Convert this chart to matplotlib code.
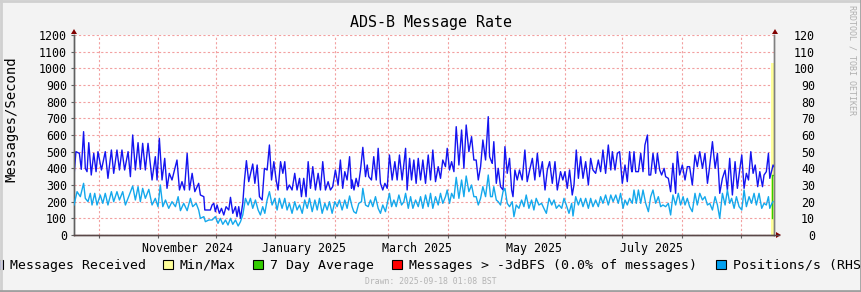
import pandas as pd
import matplotlib
matplotlib.use('Agg')
import matplotlib.pyplot as plt
import matplotlib.dates as mdates
from matplotlib.patches import Rectangle, Polygon
from matplotlib.lines import Line2D

plt.rcParams['font.family'] = ['DejaVu Sans Mono']

# time span of the graph (one year up to the draw time)
start = pd.Timestamp('2024-09-18 01:08')
end = pd.Timestamp('2025-09-18 01:08')

# messages received per second (left axis), days since start
msg_days = [0.0, 1.0, 2.8, 3.8, 5.0, 5.9, 6.8, 7.7, 9.0, 10.3, 11.5, 12.5, 14.3, 16.3, 17.7,
            19.5, 20.7, 22.4, 23.7, 25.0, 26.4, 28.2, 29.4, 30.6, 32.0, 33.4, 34.6, 35.8, 37.2,
            38.6, 40.7, 42.4, 43.3, 44.5, 45.9, 47.3, 48.5, 49.7, 51.1, 53.7, 55.0, 56.3, 57.6,
            59.0, 60.2, 61.6, 63.0, 65.0, 65.9, 67.7, 68.2, 69.4, 71.1,
            72.0, 72.9, 73.7, 74.6, 75.8, 76.9, 78.1, 79.3, 80.7, 81.6, 82.8, 84.2, 85.0, 85.9,
            86.8, 88.0, 88.9, 89.9, 91.1, 92.5, 93.2, 94.3, 95.5, 96.7, 98.1, 99.3, 100.7, 101.9,
            103.0, 104.2, 105.4, 106.4, 107.7, 108.9, 109.9, 111.1, 112.3, 113.7, 115.1, 116.3,
            117.6, 118.6, 119.8, 121.0, 122.1, 123.3, 124.5, 125.9, 127.3, 128.5, 129.7, 131.1,
            132.5, 133.7, 134.9, 136.3, 137.7, 138.9, 140.1, 141.2, 142.4, 143.7, 144.7,
            145.0, 146.0, 147.1, 148.2, 149.4, 150.6, 152.0, 152.9, 153.7, 155.1, 156.3, 157.6,
            158.6, 159.8, 161.0, 162.1, 163.3, 164.5, 165.9, 167.3, 168.5, 169.7, 171.1, 172.9,
            173.7, 175.0, 176.0, 177.2, 178.4, 179.5, 180.7, 181.9, 183.3, 184.7, 185.9, 187.1,
            188.5, 189.9, 191.1, 192.3, 193.7, 194.6, 195.8, 196.9, 198.1, 199.3, 200.7, 202.1,
            203.3, 204.5, 205.9, 207.3, 208.5, 209.7, 210.8, 212.0, 213.2, 214.6, 216.0, 216.7,
            217.7,
            218.1, 218.9, 220.2, 221.2, 222.4, 223.7, 224.7, 225.9, 227.1, 228.2, 228.9, 229.9,
            231.1, 232.3, 233.7, 235.1, 236.3, 237.6, 239.0, 240.3, 241.6, 242.8, 244.2, 245.6,
            246.8, 248.0, 249.4, 250.8, 252.0, 253.7, 254.9, 256.0, 257.2, 258.4, 259.8, 260.7,
            261.9, 263.0, 264.2, 265.4, 266.8, 268.2, 269.4, 270.6, 272.0, 273.4, 274.6, 275.8,
            277.2, 278.6, 279.9, 280.7, 282.1, 283.3, 284.5, 285.9, 287.3, 288.5, 289.7, 290.8,
            291.1, 292.0, 292.9, 294.3, 295.5, 296.7, 297.7, 299.0, 299.8, 300.7, 301.9, 303.3,
            304.2, 305.4, 306.4, 307.7, 308.5, 309.9, 311.1, 312.3, 313.7, 314.6, 315.8, 317.2,
            318.6, 319.8, 321.0, 322.4, 323.8, 325.0, 326.3, 327.7, 329.0, 330.3, 331.1, 332.9,
            334.3, 335.5, 336.7, 338.1, 339.5, 340.7, 341.9, 343.3, 344.7, 345.9, 347.1, 348.2,
            349.4, 350.6, 351.7, 352.9, 354.1, 355.2, 356.5, 357.6, 359.0, 359.8, 361.0, 362.1,
            362.8, 363.9, 364.5, 365.0]
msg_rate = [354, 500, 490, 394, 620, 400, 380, 554, 360, 490, 380, 500, 390, 500, 340,
            510, 370, 510, 390, 510, 390, 500, 350, 600, 390, 554, 394, 550, 390,
            550, 330, 470, 330, 580, 330, 460, 280, 370, 330, 450, 270, 320, 270,
            490, 270, 370, 260, 310, 240, 230, 150, 150, 150,
            180, 190, 140, 180, 130, 160, 120, 170, 150, 226, 130, 170, 110, 170,
            100, 190, 330, 446, 320, 390, 426, 310, 420, 230, 210, 400, 390, 540,
            330, 440, 330, 270, 440, 370, 440, 270, 300, 270, 370, 270,
            340, 230, 340, 230, 440, 280, 410, 270, 370, 270, 440, 270,
            320, 270, 290, 390, 300, 450, 280, 380, 330, 470, 280,
            330, 270, 340, 290, 390, 526, 350, 420, 350, 330, 470, 330,
            520, 310, 270, 310, 280, 480, 330, 440, 330, 480, 330, 520,
            270, 460, 330, 450, 310, 460, 330, 450, 310, 480, 330, 510,
            320, 410, 340, 450, 410, 520, 390, 440, 380, 650, 420, 630,
            400, 660, 500, 590, 450, 450, 330, 410, 570, 450, 710, 470,
            440,
            430, 560, 310, 400, 290, 270, 530, 370, 460, 270, 230, 390,
            330, 390, 330, 510, 320, 390, 460, 330, 490, 350, 440, 270,
            390, 440, 310, 440, 270, 380, 330, 380, 280, 390, 240, 300,
            510, 340, 470, 340, 440, 300, 460, 390, 370, 450, 380, 510,
            370, 540, 390, 500, 390, 490, 500, 310, 420, 320, 500, 380,
            380, 500, 380, 380, 490, 380, 540, 600, 360, 360, 490, 370,
            490, 390, 360, 400, 350, 340, 260, 430, 250, 500, 360, 420,
            330, 410, 410, 300, 480, 410, 500, 400, 490, 310, 380, 560,
            400, 490, 250, 340, 390, 270, 460, 240, 440, 280, 390, 480,
            280, 370, 330, 500, 370, 420, 290, 380, 290, 360, 380, 490,
            340, 390, 420, 410]

# positions per second (right axis), days since start
pos_days = [0.0, 1.6, 3.3, 5.0, 5.9, 7.3, 8.5, 9.4, 10.8, 12.0, 13.7, 15.0, 16.3, 17.7, 19.5,
            20.7, 22.4, 23.7, 25.4, 26.8, 28.5, 30.6, 32.0, 33.4, 34.6, 35.8, 37.2, 39.0, 40.7,
            42.4, 43.8, 45.0, 46.3, 47.7, 49.4, 51.1, 52.9, 54.3, 55.5, 57.2, 59.0, 60.7, 61.9,
            63.7, 65.0, 65.9, 67.7, 68.5, 70.3,
            72.0, 73.7, 75.1, 76.3, 77.6, 79.0, 80.3, 81.6, 82.8, 84.2, 85.6, 86.8, 88.0, 89.4,
            90.8, 92.0, 93.2, 94.6, 96.0, 97.2, 98.4, 99.5, 100.7, 101.9, 103.3, 104.7, 105.9,
            107.1, 108.5, 109.9, 111.1, 112.3, 113.7, 115.1, 116.3, 117.6, 119.0, 120.3, 121.6,
            122.8, 124.2, 125.6, 126.8, 128.0, 129.4, 130.8, 132.0, 133.2, 134.6, 136.0, 137.2,
            138.4, 139.8, 141.2, 142.4, 143.7,
            145.0, 145.9, 147.1, 148.5, 149.9, 150.6, 152.0, 153.4, 154.6, 155.8, 157.2, 158.6,
            159.8, 161.0, 162.4, 164.5, 165.6, 166.8, 168.0, 169.4, 170.8, 172.0, 172.9, 174.3,
            175.5, 176.7, 178.1, 179.5, 180.7, 181.9, 183.3, 184.7, 185.9, 187.1, 188.5, 189.9,
            191.1, 192.3, 193.7, 194.6, 195.8, 196.9, 198.1, 199.3, 200.7, 202.1, 203.3, 204.5,
            205.9, 207.3, 208.5, 209.7, 210.8, 212.0, 213.2, 214.6, 216.0, 217.2,
            218.1, 218.9, 220.2, 221.2, 222.4, 223.7, 224.7, 225.9, 227.1, 228.5, 229.4, 230.6,
            232.0, 233.4, 234.6, 235.8, 237.2, 238.6, 239.8, 241.0, 242.4, 243.8, 245.0, 246.3,
            247.7, 249.1, 250.3, 251.5, 252.9, 254.3, 255.5, 256.7, 258.1, 259.5, 260.2, 261.6,
            263.0, 264.2, 265.4, 266.8, 268.2, 269.4, 270.6, 272.0, 273.4, 274.6, 275.8, 277.2,
            278.6, 279.9, 281.1, 282.5, 283.8, 285.0, 286.3, 287.3, 288.5, 289.7,
            291.1, 292.0, 293.2, 294.3, 295.5, 296.7, 298.1, 299.5, 300.7, 301.9, 303.3, 304.7,
            305.9, 307.1, 308.5, 309.9, 311.1, 312.3, 313.7, 315.1, 316.3, 317.6, 318.6, 319.8,
            321.0, 322.4, 323.8, 325.0, 326.3, 327.7, 329.0, 330.3, 331.5, 332.9, 334.3, 335.5,
            336.7, 338.1, 339.5, 340.7, 341.9, 342.9, 344.2, 345.4, 346.8, 348.2, 349.4, 350.6,
            352.0, 353.3, 354.6, 355.8, 357.2, 358.6, 359.8, 361.0, 362.1, 362.8, 363.9, 364.5]
pos_rate = [18.0, 26.0, 23.0, 31.0, 22.0, 20.0, 25.0, 18.0, 25.0, 18.0, 24.0, 19.0, 25.0, 18.0, 26.0,
            20.0, 26.0, 21.0, 26.0, 18.0, 23.0, 29.4, 21.0, 29.0, 20.0, 28.0, 22.0, 27.4, 18.0,
            22.0, 17.0, 30.0, 17.0, 21.0, 16.0, 20.0, 17.0, 23.0, 14.6, 19.0, 14.6, 22.0, 17.0,
            19.0, 15.0, 10.0, 11.0, 8.0, 9.0,
            9.0, 11.0, 7.0, 10.0, 6.4, 9.0, 6.0, 10.0, 6.4, 9.0, 5.4, 8.0, 12.0, 22.0,
            18.0, 22.0, 16.0, 21.0, 15.0, 12.0, 17.0, 13.0, 21.0, 26.0, 18.0, 22.0, 15.0,
            22.0, 16.0, 22.0, 15.0, 19.0, 13.0, 20.0, 15.0, 18.0, 13.0, 21.0, 16.0,
            22.0, 14.0, 21.0, 15.0, 22.0, 13.0, 19.0, 15.0, 20.0, 13.0, 20.0, 17.0,
            21.0, 15.0, 21.0, 16.0, 23.4,
            17.0, 14.0, 13.0, 19.0, 20.0, 28.0, 18.0, 17.0, 21.0, 17.0, 23.0, 16.0,
            13.0, 18.0, 14.0, 25.0, 17.0, 21.0, 17.0, 24.0, 18.0, 20.0, 25.0, 16.0,
            23.0, 16.0, 21.0, 17.0, 23.0, 16.0, 24.0, 17.0, 25.0, 16.0, 23.0, 18.0,
            25.0, 19.0, 23.0, 27.0, 19.0, 25.0, 22.0, 34.6, 22.0, 33.0, 23.0, 35.4,
            26.0, 30.0, 23.0, 23.0, 18.0, 22.0, 29.0, 23.0, 36.0, 23.0,
            23.0, 29.0, 21.0, 20.0, 18.0, 26.0, 28.0, 19.0, 17.0, 20.0, 11.0, 18.0,
            16.0, 21.0, 17.0, 24.0, 16.0, 21.0, 15.0, 22.0, 18.0, 19.0, 16.0, 13.0,
            22.0, 18.0, 21.0, 16.0, 18.0, 16.0, 22.0, 18.0, 13.0, 19.0, 11.4, 23.0,
            18.0, 22.0, 17.0, 22.0, 16.0, 22.0, 17.0, 21.0, 17.0, 23.0, 19.0, 24.0,
            18.0, 24.0, 20.0, 24.0, 19.0, 25.0, 16.0, 21.0, 18.0, 22.0,
            19.0, 27.0, 19.0, 27.0, 19.0, 27.0, 19.0, 14.0, 23.0, 27.0, 19.0, 23.0,
            17.0, 18.0, 17.0, 19.0, 12.0, 24.0, 18.0, 25.0, 18.0, 23.0, 18.0, 22.0,
            17.0, 14.0, 25.0, 18.0, 25.0, 21.0, 23.0, 18.0, 19.0, 15.0, 23.0, 18.0,
            10.0, 25.0, 18.0, 27.0, 19.0, 22.0, 16.0, 23.0, 17.0, 15.0, 27.0, 17.0,
            23.0, 19.0, 25.0, 18.0, 25.0, 16.0, 19.0, 18.0, 23.0, 16.0, 19.0, 20.0]

# min/max band and 7 day average only present at the newest sample
minmax_days = [363.6, 365.0]
minmax_hi = [1030, 1030]
avg7_days = [363.9, 364.3, 364.6]
avg7_rate = [100, 360, 360]

label_months = ['November 2024', 'January 2025', 'March 2025', 'May 2025', 'July 2025']
label_dates = ['2024-11-16', '2025-01-16', '2025-03-16', '2025-05-16', '2025-07-16']

legend_names = ['Messages Received', 'Min/Max', '7 Day Average',
                'Messages > -3dBFS (0.0% of messages)', 'Positions/s (RHS)']
legend_colors = ['#0000ff', '#ffff99', '#33cc00', '#ff0000', '#00a0f0']

W, H = 862, 292
fig = plt.figure(figsize=(W / 100, H / 100), dpi=100)
fig.patch.set_facecolor('#f3f3f3')


def fx(px):
    return px / W


def fy(py):
    return 1 - py / H


ax = fig.add_axes([fx(74), fy(235), fx(774) - fx(74), fy(35) - fy(235)])
ax.set_facecolor('white')

to_dt = lambda days: start + pd.to_timedelta(days, unit='D')

ax.fill_between(to_dt(minmax_days), 0, minmax_hi, color='#ffff99', lw=0, zorder=1)
ax.plot(to_dt(msg_days), msg_rate, color='#1414f0', lw=1.0, zorder=3)
ax.step(to_dt(avg7_days), avg7_rate, where='pre', color='#33cc00', lw=1.0, zorder=4)

ax2 = ax.twinx()
ax2.plot(to_dt(pos_days), pos_rate, color='#14a8ec', lw=1.0, zorder=3)

ax.set_xlim(start, end)
ax.set_ylim(0, 1200)
ax2.set_ylim(0, 120)
ax.set_yticks(range(0, 1201, 100))
ax2.set_yticks(range(0, 121, 10))

ax.xaxis.set_major_locator(mdates.MonthLocator())
ax.xaxis.set_major_formatter(plt.NullFormatter())
ax.set_xticks(pd.to_datetime(label_dates), minor=True)
ax.set_xticklabels(label_months, minor=True)
ax.tick_params(axis='x', which='major', length=2, color='#606060', direction='out')
ax.tick_params(axis='x', which='minor', length=0, pad=5, labelsize=8.4)
ax.tick_params(axis='y', length=2, color='#606060', pad=3, labelsize=8.4)
ax2.tick_params(axis='y', length=0, pad=29.5, labelsize=8.4)
for t in ax2.get_yticklabels():
    t.set_horizontalalignment('right')

ax.grid(True, which='major', color='#f2a0a0', linestyle=(0, (2, 2)), lw=0.8)
ax.set_axisbelow(True)

for a in (ax, ax2):
    a.spines['top'].set_visible(False)
    a.spines['left'].set_color('#606060')
    a.spines['right'].set_color('#808080')
    a.spines['bottom'].set_color('#5a4848')
    for s in a.spines.values():
        s.set_linewidth(1.0)

# axis arrows
ax_line = Line2D([fx(774), fx(779)], [fy(235), fy(235)], transform=fig.transFigure, color='#5a4848', lw=1)
fig.add_artist(ax_line)
for tri in ([(71, 34), (77, 34), (74, 29)], [(772, 34), (778, 34), (775, 29)],
            [(776, 232), (776, 238), (781, 235)]):
    fig.add_artist(Polygon([(fx(a), fy(b)) for a, b in tri], closed=True,
                           transform=fig.transFigure, color='#800000', lw=0))

fig.text(fx(431), fy(23), 'ADS-B Message Rate', ha='center', va='center', fontsize=10.8)
fig.text(fx(11), fy(119), 'Messages/Second', rotation=90, ha='center', va='center', fontsize=10)
fig.text(fx(852), fy(60), 'RRDTOOL / TOBI OETIKER', rotation=270, ha='center', va='center',
         fontsize=6, color='#b0b0b0')
fig.text(fx(431), fy(281), 'Drawn: 2025-09-18 01:08 BST', ha='center', va='center',
         fontsize=5.9, color='#b4b4b4')

# legend row, clipped by the image edges like the original
box_x = [-7, 163, 253, 392, 716]
for bx, name, col in zip(box_x, legend_names, legend_colors):
    fig.add_artist(Rectangle((fx(bx), fy(269)), fx(10), fy(260) - fy(269), transform=fig.transFigure,
                             facecolor=col, edgecolor='black', lw=0.8))
    fig.text(fx(bx + 17), fy(265), name, ha='left', va='center', fontsize=9.5)

# frame
fig.add_artist(Line2D([0, 1], [fy(1), fy(1)], transform=fig.transFigure, color='#d0d0d0', lw=2))
fig.add_artist(Line2D([fx(1), fx(1)], [0, 1], transform=fig.transFigure, color='#d0d0d0', lw=2))
fig.add_artist(Line2D([0, 1], [fy(291), fy(291)], transform=fig.transFigure, color='#a0a0a0', lw=2))
fig.add_artist(Line2D([fx(861), fx(861)], [0, 1], transform=fig.transFigure, color='#a0a0a0', lw=2))

fig.savefig('out.png', dpi=100, facecolor=fig.get_facecolor())
